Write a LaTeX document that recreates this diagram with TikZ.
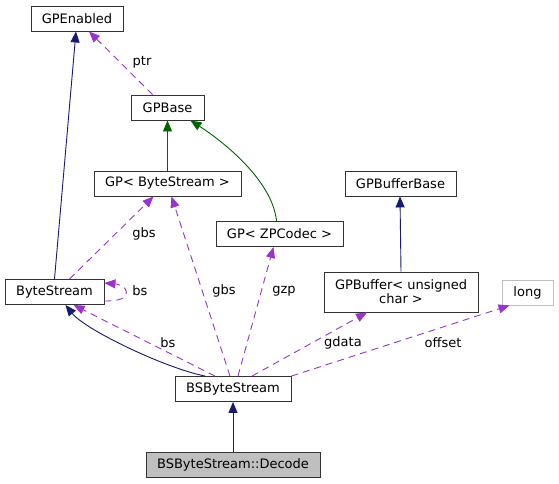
\documentclass[tikz,border=0pt]{standalone}
\usepackage{fontspec}
\setmainfont{DejaVu Sans}
\usetikzlibrary{arrows.meta}
\definecolor{inhblue}{HTML}{191970}
\definecolor{inhgreen}{HTML}{006400}
\definecolor{usepurple}{HTML}{9A32CD}
\tikzset{
  cls/.style={draw=black!80, line width=0.9pt, fill=white, minimum height=25pt, inner sep=2pt, font=\fontsize{13}{14}\selectfont},
  lbl/.style={font=\fontsize{13}{14}\selectfont, inner sep=1pt},
  inh/.style={draw=inhblue, line width=0.9pt, arrows={-{Triangle[length=11pt,width=9pt,color=inhblue]}}},
  inhg/.style={draw=inhgreen, line width=0.9pt, arrows={-{Triangle[length=11pt,width=9pt,color=inhgreen]}}},
  dep/.style={draw=usepurple, line width=0.9pt, dash pattern=on 7pt off 5pt, arrows={-{Triangle[length=11pt,width=9pt,color=usepurple]}}}
}
\begin{document}
\begin{tikzpicture}[x=1pt, y=-1pt]
  \useasboundingbox (0,0) rectangle (559,484);
  % classes
  \node[cls, minimum width=92pt] (gpenabled) at (77,18.5) {GPEnabled};
  \node[cls, minimum width=73pt] (gpbase) at (167.5,107.5) {GPBase};
  \node[cls, minimum width=147pt] (gpbs) at (167.5,183.5) {GP< ByteStream >};
  \node[cls, minimum width=127pt] (gpzp) at (279.5,234) {GP< ZPCodec >};
  \node[cls, minimum width=111pt] (gpbufbase) at (400.5,183.5) {GPBufferBase};
  \node[cls, minimum width=99pt] (bytestream) at (54.5,292) {ByteStream};
  \node[cls, minimum width=154pt, minimum height=40pt, align=center] (gpbuf) at (401,292) {GPBuffer< unsigned\\char >};
  \node[cls, draw=black!25, minimum width=51pt] (long) at (527.5,292.5) {long};
  \node[cls, minimum width=116pt] (bsbs) at (233,389) {BSByteStream};
  \node[cls, fill=black!25, minimum width=174pt] (decode) at (233,464.5) {BSByteStream::Decode};
  % inheritance
  \draw[inh] (bytestream.north) -- ([xshift=-1pt]gpenabled.south);
  \draw[inhg] (gpbs.north) -- (gpbase.south);
  \draw[inhg] ([xshift=-3pt]gpzp.north) .. controls +(-4pt,40pt) and +(34pt,-22pt) .. ([xshift=23pt]gpbase.south);
  \draw[inh] (gpbuf.north) -- ([xshift=-0.5pt]gpbufbase.south);
  \draw[inh] ([xshift=-28pt]bsbs.north) .. controls +(-40pt,8pt) and +(20pt,-25pt) .. ([xshift=11pt]bytestream.south);
  \draw[inh] (decode.north) -- (bsbs.south);
  % usage
  \draw[dep] ([xshift=-15pt]gpbase.north) -- ([xshift=12pt]gpenabled.south);
  \node[lbl] (lptr) at (142,62) {ptr};
  \draw[dep] ([xshift=15pt]bytestream.north) -- ([xshift=-14pt]gpbs.south);
  \node[lbl] (lgbs1) at (144,234) {gbs};
  \draw[dep] ([yshift=-9pt]bytestream.east) .. controls +(16pt,0pt) and +(0pt,-6pt) .. ([xshift=22pt]bytestream.east)
    .. controls +(0pt,6pt) and +(12pt,-1pt) .. ([yshift=9pt]bytestream.east);
  \node[lbl] (lbs1) at (140,291) {bs};
  \draw[dep] ([xshift=-18pt]bsbs.north) -- ([xshift=19pt]bytestream.south);
  \node[lbl] (lbs2) at (168,343) {bs};
  \draw[dep] ([xshift=-3pt]bsbs.north) -- ([xshift=4pt]gpbs.south);
  \node[lbl] (lgbs2) at (224,291) {gbs};
  \draw[dep] ([xshift=5pt]bsbs.north) -- ([xshift=-6pt]gpzp.south);
  \node[lbl] (lgzp) at (284,291) {gzp};
  \draw[dep] ([xshift=19pt]bsbs.north) -- ([xshift=-34pt]gpbuf.south);
  \node[lbl] (lgdata) at (343,343) {gdata};
  \draw[dep] (bsbs.north east) -- ([xshift=-18pt]long.south);
  \node[lbl] (loffset) at (443,343) {offset};
\end{tikzpicture}
\end{document}
